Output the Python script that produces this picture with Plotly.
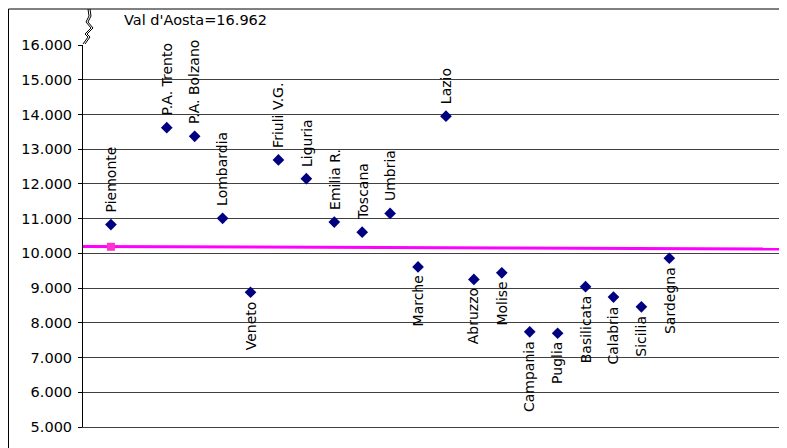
import plotly.graph_objects as go

regions = ["Piemonte", "Val d'Aosta", "P.A. Trento", "P.A. Bolzano", "Lombardia", "Veneto",
           "Friuli V.G.", "Liguria", "Emilia R.", "Toscana", "Umbria", "Marche", "Lazio",
           "Abruzzo", "Molise", "Campania", "Puglia", "Basilicata", "Calabria", "Sicilia", "Sardegna"]
values = [10830, 16962, 13620, 13370, 11010, 8880, 12690, 12150, 10900, 10610, 11150, 9610, 13950,
          9250, 9440, 7740, 7700, 9040, 8740, 8460, 9860]
label_above = [True, True, True, True, True, False, True, True, True, True, True, False, True,
               False, False, False, False, False, False, False, False]
italia_value = 10190
italia_line_x = [0, 25.3]
italia_line_y = [10200, 10122]
y_ticks = list(range(5000, 16001, 1000))

FONT = "DejaVu Sans, Verdana, sans-serif"
OFF = 8  # page body margin offset
W, H = 787 - OFF, 448 - OFF
L, T = 83 - OFF, 45 - OFF
R = W - (781 - OFF)
B = H - (427 - OFF)
pw, ph = W - L - R, H - T - B

positions = list(range(1, len(regions) + 1))
shown = [(p, r, v, a) for p, r, v, a in zip(positions, regions, values, label_above) if v <= 16000]

fig = go.Figure()
fig.add_trace(go.Scatter(x=italia_line_x, y=italia_line_y, mode="lines",
                         line=dict(color="#FF00FF", width=3), hoverinfo="skip"))
fig.add_trace(go.Scatter(x=[1], y=[italia_value], mode="markers",
                         marker=dict(symbol="square", size=8, color="#FF33CC"), hoverinfo="skip"))
fig.add_trace(go.Scatter(x=[s[0] for s in shown], y=[s[2] for s in shown], mode="markers",
                         marker=dict(symbol="diamond", size=9, color="#000080"),
                         cliponaxis=False))

annotations = []
for p, r, v, a in shown:
    annotations.append(dict(x=p, y=v, xref="x", yref="y", text=r, showarrow=False,
                            textangle=-90, xanchor="center",
                            yanchor="bottom" if a else "top",
                            yshift=10 if a else -7,
                            font=dict(family=FONT, size=14, color="black")))


def px(x):
    return (x - OFF - L) / pw


def py(y):
    return 1 - (y - OFF - T) / ph


# off-scale Val d'Aosta value
annotations.append(dict(x=px(122), y=py(20), xref="paper", yref="paper",
                        text="Val d'Aosta=" + f"{values[1]/1000:.3f}",
                        showarrow=False, xanchor="left", yanchor="middle",
                        font=dict(family=FONT, size=14.5, color="black")))

shapes = []
# outer chart border
shapes.append(dict(type="rect", xref="paper", yref="paper", x0=px(8.5), x1=px(W + 40),
                   y0=py(H + 40), y1=py(9), line=dict(color="black", width=1)))
# plot border right
shapes.append(dict(type="line", xref="paper", yref="paper", x0=1, x1=1, y0=0, y1=1,
                   line=dict(color="#808080", width=1)))
# axis break zigzag
zig = [(88, 9), (89, 16), (86, 22), (91, 28), (85, 34), (88, 37), (83, 44)]
path = "M " + " L ".join(f"{px(x):.5f},{py(y):.5f}" for x, y in zig)
shapes.append(dict(type="path", xref="paper", yref="paper", path=path,
                   line=dict(color="black", width=1)))
zig2 = [(90, 9), (91, 16), (88, 22), (93, 28), (87, 34), (90, 37), (85, 44)]
path2 = "M " + " L ".join(f"{px(x):.5f},{py(y):.5f}" for x, y in zig2)
shapes.append(dict(type="path", xref="paper", yref="paper", path=path2,
                   line=dict(color="black", width=1)))

fig.update_layout(
    width=W, height=H, margin=dict(l=L, r=R, t=T, b=B),
    paper_bgcolor="white", plot_bgcolor="white", showlegend=False,
    separators=",.",
    font=dict(family=FONT, size=14, color="black"),
    annotations=annotations, shapes=shapes,
    xaxis=dict(range=[0, 25], showgrid=False, zeroline=False, showticklabels=False,
               showline=True, linecolor="#404040", linewidth=1, ticks=""),
    yaxis=dict(range=[5000, 16000], tickvals=y_ticks, tickformat=",d",
               showgrid=True, gridcolor="#404040", gridwidth=1, zeroline=False,
               showline=True, linecolor="black", linewidth=1,
               ticks="outside", ticklen=4, tickcolor="black", ticklabelstandoff=3,
               tickfont=dict(family=FONT, size=14.5, color="black")),
)

fig.write_html("out.html")
